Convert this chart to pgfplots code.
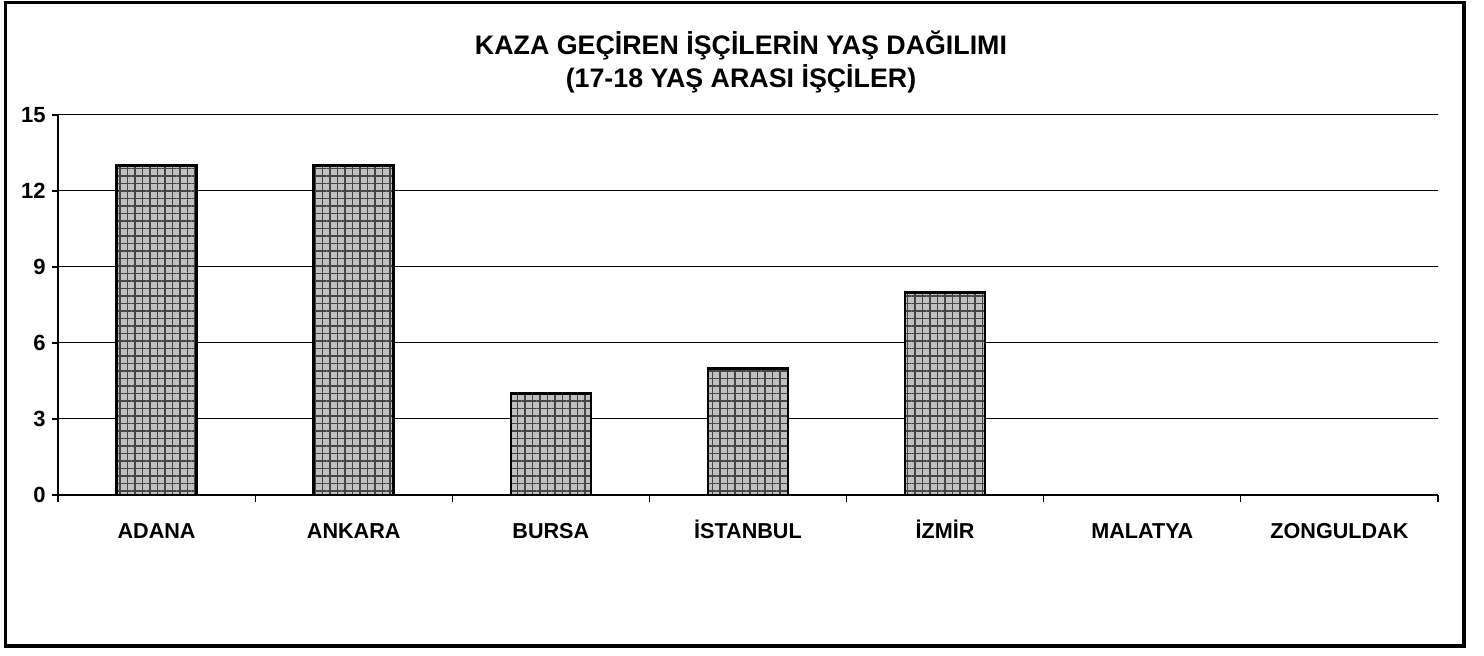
\documentclass[border=0pt]{standalone}
\usepackage{pgfplots}
\pgfplotsset{compat=1.18}
\usetikzlibrary{patterns.meta}
\usepackage{fontspec}
\setmainfont{Liberation Sans}
\definecolor{barfill}{HTML}{C0C0C0}
\definecolor{barline}{HTML}{454545}

\begin{document}
\begin{tikzpicture}
\begin{axis}[
  name=ax,
  at={(0,0)}, anchor=south west,
  scale only axis,
  width=690pt, height=190pt,
  xmin=-0.5, xmax=6.5,
  ymin=0, ymax=15,
  axis x line*=bottom, axis y line*=left,
  axis line style={line width=0.6pt, -},
  xtick={0,...,6},
  xticklabels={ADANA, ANKARA, BURSA, İSTANBUL, İZMİR, MALATYA, ZONGULDAK},
  major x tick style={draw=none},
  minor xtick={-0.5,0.5,...,6.5},
  minor tick length=3.5pt,
  minor x tick style={line width=0.6pt, black},
  ytick={0,3,...,15},
  yticklabel={\textbf{\pgfmathprintnumber{\tick}}},
  major tick length=3pt,
  y tick style={line width=0.6pt, black},
  tick align=outside,
  ymajorgrids=true,
  grid style={line width=0.5pt, black},
  xticklabel style={font=\fontsize{10.8pt}{12pt}\selectfont\bfseries, anchor=base, yshift=-19pt},
  yticklabel style={font=\fontsize{11pt}{12pt}\selectfont\bfseries, anchor=east, inner sep=0pt, xshift=-3pt},
  /pgf/number format/assume math mode=true,
  clip=false,
]
% kaza geciren 17-18 yas isciler, il bazinda
\addplot[ybar, bar width=40pt, draw=black, line width=1.3pt,
  y filter/.expression={y==0 ? nan : y},
  preaction={fill=barfill},
  pattern={Hatch[angle=0, distance=3.75pt, line width=0.85pt]}, pattern color=barline]
  coordinates {(0,13) (1,13) (2,4) (3,5) (4,8) (5,0) (6,0)};
\end{axis}

% cerceve ve baslik
\path ([shift={(-29pt,-80.5pt)}]ax.south west) rectangle ([shift={(713pt,247.5pt)}]ax.south west);
\draw[line width=1.6pt] ([shift={(-26.25pt,-75.5pt)}]ax.south west) rectangle ([shift={(703pt,246.25pt)}]ax.south west);
\node[anchor=base, font=\fontsize{13.4pt}{15pt}\selectfont\bfseries, inner sep=0pt]
  at ([shift={(341.5pt,220pt)}]ax.south west) {KAZA GEÇİREN İŞÇİLERİN YAŞ DAĞILIMI};
\node[anchor=base, font=\fontsize{13.4pt}{15pt}\selectfont\bfseries, inner sep=0pt]
  at ([shift={(341.5pt,203.5pt)}]ax.south west) {(17-18 YAŞ ARASI İŞÇİLER)};
\end{tikzpicture}
\end{document}
